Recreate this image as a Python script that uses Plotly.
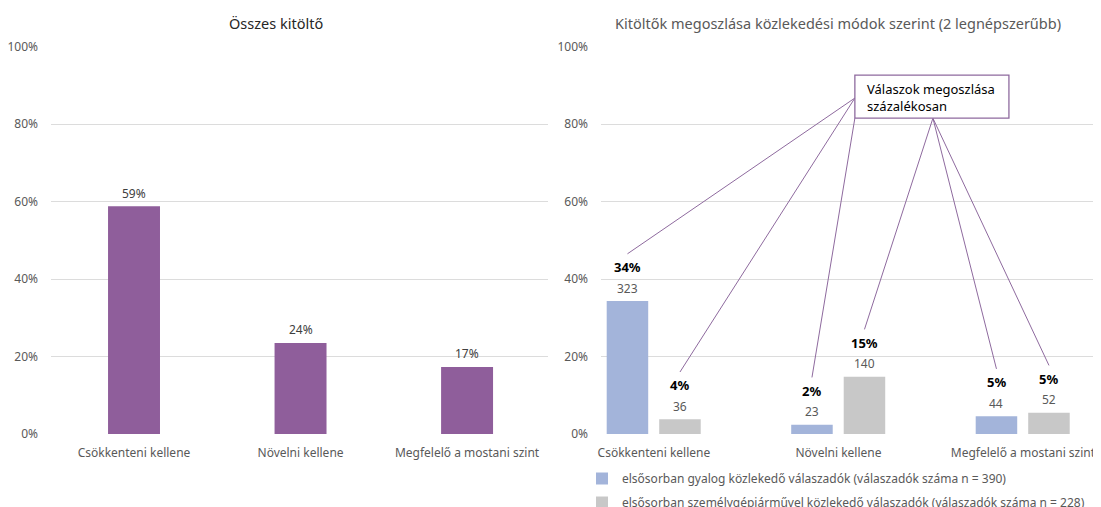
import plotly.graph_objects as go

# ---------------- data ----------------
categories = ["Csökkenteni kellene", "Növelni kellene", "Megfelelő a mostani szint"]
total_pct = [58.8, 23.5, 17.3]
total_labels = ["59%", "24%", "17%"]

walk_pct = [34.3, 2.4, 4.6]
car_pct = [3.8, 14.8, 5.5]
walk_pct_labels = ["34%", "2%", "5%"]
car_pct_labels = ["4%", "15%", "5%"]
walk_counts = [323, 23, 44]
car_counts = [36, 140, 52]

y_ticks = [0, 20, 40, 60, 80, 100]
y_tick_labels = ["0%", "20%", "40%", "60%", "80%", "100%"]
left_title = "Összes kitöltő"
right_title = "Kitöltők megoszlása közlekedési módok szerint (2 legnépszerűbb)"
walk_name = "elsősorban gyalog közlekedő válaszadók (válaszadók száma n = 390)"
car_name = "elsősorban személygépjárművel közlekedő válaszadók (válaszadók száma n = 228)"
callout_text = "Válaszok megoszlása<br>százalékosan"

# ---------------- style / layout ----------------
FONT = "Noto Sans"
PURPLE = "#8F5E9B"
BLUE = "#A3B4DA"
GRAY = "#C8C8C8"
LINE_PURPLE = "#8E6A9E"
GRID = "#DCDCDC"
TXT = "#595959"

PAGE_OFF = 8          # default body margin of the html page
W, H = 1101 - PAGE_OFF, 507 - PAGE_OFF


def px(X):
    return (X - PAGE_OFF) / W


def py(Y):
    return 1 - (Y - PAGE_OFF) / H


xs = list(range(len(categories)))
L_W = 0.312
R_W = 0.225
WALK_C = -0.1436
CAR_C = 0.141

fig = go.Figure()
fig.add_trace(go.Bar(x=xs, y=total_pct, width=L_W, offset=-L_W / 2,
                     marker=dict(color=PURPLE, line=dict(width=0)),
                     showlegend=False, xaxis="x", yaxis="y", hoverinfo="skip"))
fig.add_trace(go.Bar(x=xs, y=walk_pct, width=R_W, offset=WALK_C - R_W / 2,
                     marker=dict(color=BLUE, line=dict(width=0)), name=walk_name,
                     legendgroup="a", xaxis="x2", yaxis="y2", hoverinfo="skip"))
fig.add_trace(go.Bar(x=xs, y=car_pct, width=R_W, offset=CAR_C - R_W / 2,
                     marker=dict(color=GRAY, line=dict(width=0)), name=car_name,
                     legendgroup="b", xaxis="x2", yaxis="y2", hoverinfo="skip"))

annotations = []
# left labels
for xi, v, t in zip(xs, total_pct, total_labels):
    annotations.append(dict(x=xi, y=v, xref="x", yref="y", text=t, showarrow=False,
                            yanchor="middle", yshift=13,
                            font=dict(family=FONT, size=12, color="#404040")))
# right labels
for cx, vals, plabs, counts in [(WALK_C, walk_pct, walk_pct_labels, walk_counts),
                                (CAR_C, car_pct, car_pct_labels, car_counts)]:
    for xi, v, p, c in zip(xs, vals, plabs, counts):
        annotations.append(dict(x=xi + cx, y=v, xref="x2", yref="y2", text=str(c),
                                showarrow=False, yanchor="middle", yshift=13,
                                font=dict(family=FONT, size=12, color=TXT)))
        annotations.append(dict(x=xi + cx, y=v, xref="x2", yref="y2", text="<b>" + p + "</b>",
                                showarrow=False, yanchor="middle", yshift=34,
                                font=dict(family=FONT, size=13, color="#000000")))

# titles
annotations.append(dict(x=px(276), y=py(23), xref="paper", yref="paper",
                        text=left_title, showarrow=False, xanchor="center", yanchor="middle",
                        font=dict(family=FONT, size=14.5, color="#262626")))
annotations.append(dict(x=px(838), y=py(23), xref="paper", yref="paper",
                        text=right_title, showarrow=False, xanchor="center", yanchor="middle",
                        font=dict(family=FONT, size=14.5, color=TXT)))

# callout box
BOX_X0, BOX_X1 = 1.089, 1.924
BOX_Y0, BOX_Y1 = 81.5, 92.6
EDGE_Y = 86.7
BOTTOM_MID_X = 1.512
annotations.append(dict(x=1.1436, y=86.9, xref="x2", yref="y2", text=callout_text,
                        showarrow=False, xanchor="left", yanchor="middle", align="left",
                        font=dict(family=FONT, size=13, color="#000000")))

shapes = []
LEAD = 12.2
targets = [
    ((BOX_X0, EDGE_Y), (xs[0] + WALK_C, walk_pct[0] + LEAD)),
    ((BOX_X0, EDGE_Y), (xs[0] + CAR_C, car_pct[0] + LEAD)),
    ((BOX_X0, BOX_Y0), (xs[1] + WALK_C, walk_pct[1] + LEAD)),
    ((BOTTOM_MID_X, BOX_Y0), (xs[1] + CAR_C, car_pct[1] + LEAD)),
    ((BOTTOM_MID_X, BOX_Y0), (xs[2] + WALK_C, walk_pct[2] + LEAD)),
    ((BOTTOM_MID_X, BOX_Y0), (xs[2] + CAR_C, car_pct[2] + LEAD)),
]
for (x0, y0), (x1, y1) in targets:
    shapes.append(dict(type="line", xref="x2", yref="y2", x0=x0, y0=y0, x1=x1, y1=y1,
                       line=dict(color=LINE_PURPLE, width=1)))
shapes.append(dict(type="rect", xref="x2", yref="y2", x0=BOX_X0, x1=BOX_X1, y0=BOX_Y0, y1=BOX_Y1,
                   line=dict(color=LINE_PURPLE, width=1.3), fillcolor="white"))

y_dom = [py(434), py(46.5)]
yaxis_common = dict(range=[0, 100], tickmode="array", tickvals=y_ticks, ticktext=y_tick_labels,
                    showgrid=True, gridcolor=GRID, gridwidth=1, zeroline=False, showline=False,
                    ticks="", ticklabelstandoff=12, automargin=False,
                    tickfont=dict(family=FONT, size=12, color=TXT),
                    domain=y_dom, fixedrange=True)
xaxis_common = dict(tickmode="array", tickvals=xs, ticktext=categories, showgrid=False,
                    zeroline=False, showline=False, ticks="", ticklabelstandoff=10,
                    automargin=False,
                    tickfont=dict(family=FONT, size=12, color=TXT), fixedrange=True)

fig.update_layout(
    width=W, height=H,
    margin=dict(l=0, r=0, t=0, b=0, autoexpand=False),
    paper_bgcolor="white", plot_bgcolor="white",
    barmode="overlay",
    xaxis=dict(xaxis_common, domain=[px(51), px(548)], range=[-0.4985, 2.486], anchor="y"),
    yaxis=dict(yaxis_common, anchor="x"),
    xaxis2=dict(xaxis_common, domain=[px(601), 1.0], range=[-0.287, 2.423], anchor="y2"),
    yaxis2=dict(yaxis_common, anchor="x2"),
    legend=dict(x=px(582), y=py(464), xanchor="left", yanchor="top",
                orientation="v", traceorder="grouped", tracegroupgap=5,
                font=dict(family=FONT, size=12, color=TXT), bgcolor="rgba(0,0,0,0)"),
    annotations=annotations,
    shapes=shapes,
    showlegend=True,
)

fig.write_html("out.html")
